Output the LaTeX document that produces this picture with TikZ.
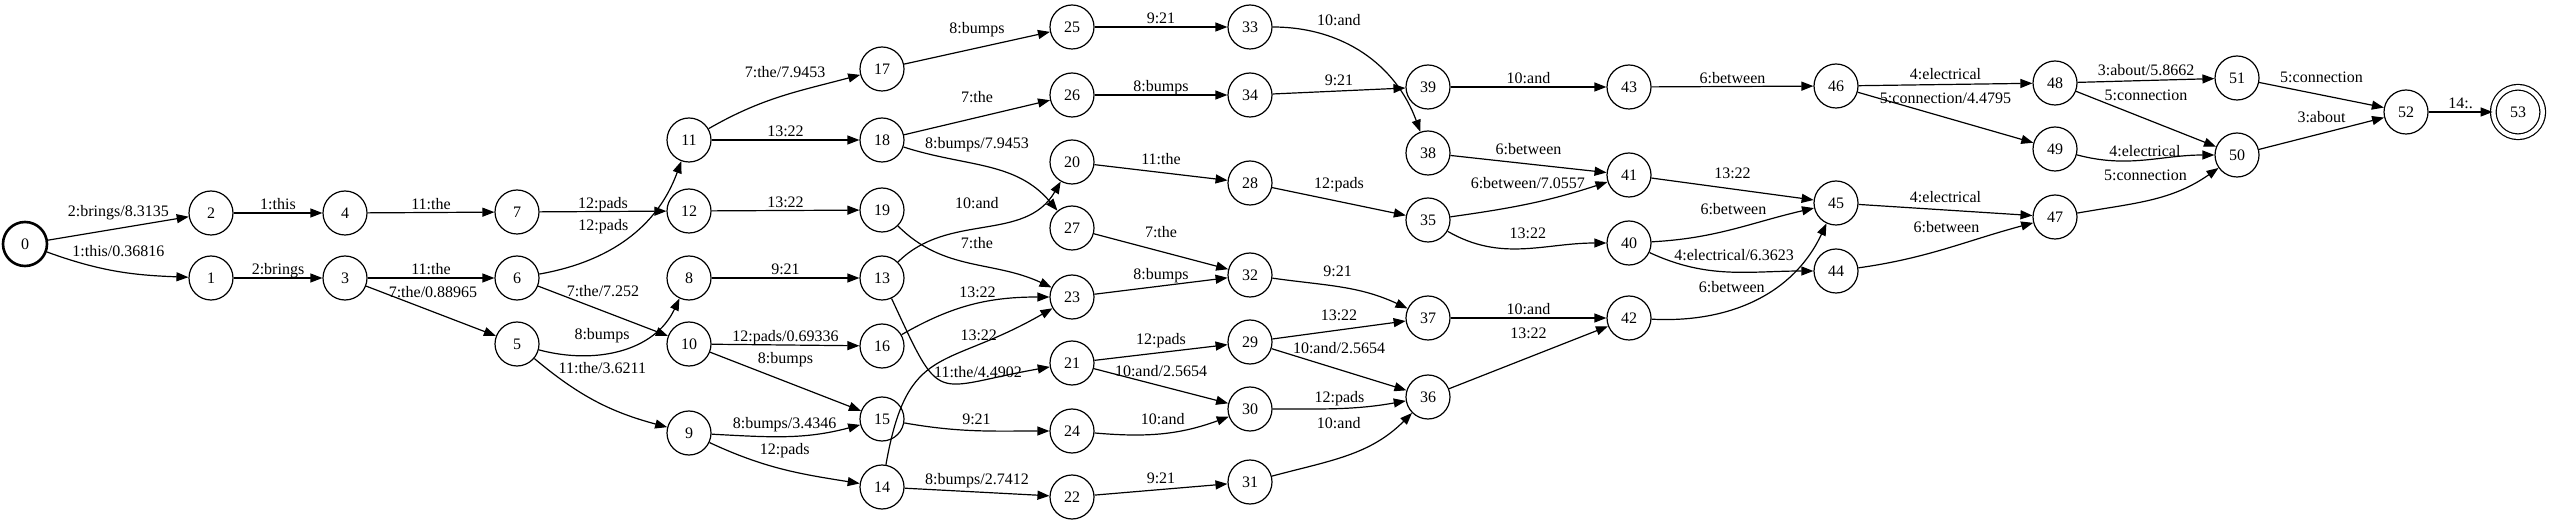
\documentclass[tikz,border=0pt]{standalone}
\usepackage{fontspec}
\setmainfont{Liberation Serif}
\usetikzlibrary{arrows.meta}
\newcommand{\lblfont}{\fontsize{16}{19}\selectfont}

\begin{document}
\begin{tikzpicture}[x=1pt,y=1pt,
    st/.style={circle,draw,line width=1.2pt,minimum size=44pt,inner sep=0pt,font=\lblfont},
    tr/.style={-{Triangle[length=12pt,width=9pt]},line width=1.2pt},
    lbl/.style={font=\lblfont,inner sep=2.5pt,text height=11pt,text depth=0pt},
    lb/.style 2 args={lbl,xshift=#1pt,yshift=#2pt}]
    \useasboundingbox (0,0) rectangle (2550,525);
    \node[st,line width=2.6pt] (s0) at (25,281) {0};
    \foreach \n/\x/\y in {2/211/312, 1/211/247, 4/345/312, 3/345/247, 7/517/313, 6/517/247,
      5/517/181, 11/689/385, 12/689/314, 8/689/247, 10/689/181, 9/689/92, 17/882/456,
      18/882/385, 19/882/315, 13/882/247, 16/882/179, 15/882/106, 14/882/38, 25/1072/498,
      26/1072/430, 20/1072/363, 27/1072/297, 23/1072/228, 21/1072/162, 24/1072/94,
      22/1072/28, 33/1250/498, 34/1250/430, 28/1250/342, 32/1250/250, 29/1250/183,
      30/1250/116, 31/1250/43, 39/1428/438, 38/1428/372, 35/1428/305, 37/1428/207,
      36/1428/128, 43/1629/438, 41/1629/350, 40/1629/282, 42/1629/207, 46/1836/439,
      45/1836/322, 44/1836/254, 48/2055/442, 49/2055/376, 47/2055/308, 51/2237/447,
      50/2237/370, 52/2406/413}
      \node[st] (s\n) at (\x,\y) {\n};
    \node[st,double,double distance=4.4pt,minimum size=49.5pt] (s53) at (2518,413) {53};
    \draw[tr]
    (s0) edge node[lb={0}{17}]{2:brings/8.3135} (s2)
    (s0) edge[out=-20,in=178] node[lb={2}{20}]{1:this/0.36816} (s1)
    (s2) edge node[lbl,above]{1:this} (s4)
    (s1) edge node[lbl,above]{2:brings} (s3)
    (s4) edge node[lbl,above]{11:the} (s7)
    (s3) edge node[lbl,above]{11:the} (s6)
    (s3) edge node[lb={2}{19}]{7:the/0.88965} (s5)
    (s7) edge node[lbl,above]{12:pads} (s12)
    (s6) edge[out=10,in=-110] node[lb={-24}{13}]{12:pads} (s11)
    (s6) edge node[lb={0}{20}]{7:the/7.252} (s10)
    (s5) edge[out=-15,in=-115] node[lb={-19}{16}]{8:bumps} (s8)
    (s5) edge[out=-40,in=165] node[lb={6}{33}]{11:the/3.6211} (s9)
    (s11) edge[out=30,in=195] node[lb={3}{24}]{7:the/7.9453} (s17)
    (s11) edge node[lbl,above]{13:22} (s18)
    (s12) edge node[lbl,above]{13:22} (s19)
    (s8) edge node[lbl,above]{9:21} (s13)
    (s10) edge node[lbl,above]{12:pads/0.69336} (s16)
    (s10) edge node[lb={0}{23}]{8:bumps} (s15)
    (s9) edge[out=-3,in=195] node[lb={-2}{13}]{8:bumps/3.4346} (s15)
    (s9) edge[out=-25,in=171] node[lb={2}{20}]{12:pads} (s14)
    (s17) edge node[lb={0}{20}]{8:bumps} (s25)
    (s18) edge node[lb={0}{20}]{7:the} (s26)
    (s18) edge[out=-18,in=130] node[lb={-11}{25}]{8:bumps/7.9453} (s27)
    (s19) edge[out=-45,in=155] node[lb={7}{21}]{7:the} (s23)
    (s13) edge[out=45,in=-120] node[lb={-8}{23}]{10:and} (s20)
    (s13) edge[out=-65,in=190,looseness=1.8] node[lb={33}{10}]{11:the/4.4902} (s21)
    (s16) edge[out=30,in=180] node[lb={5}{13}]{13:22} (s23)
    (s15) edge[out=-10,in=180] node[lb={0}{12}]{9:21} (s24)
    (s14) edge[out=80,in=-150,looseness=1.4] node[lb={42}{29}]{13:22} (s23)
    (s14) edge node[lb={0}{13}]{8:bumps/2.7412} (s22)
    (s25) edge node[lbl,above]{9:21} (s33)
    (s26) edge node[lbl,above]{8:bumps} (s34)
    (s20) edge node[lb={0}{13.5}]{11:the} (s28)
    (s27) edge node[lb={0}{19.5}]{7:the} (s32)
    (s23) edge node[lb={0}{12}]{8:bumps} (s32)
    (s21) edge node[lb={0}{13.5}]{12:pads} (s29)
    (s21) edge node[lb={0}{15}]{10:and/2.5654} (s30)
    (s24) edge[out=-5,in=200] node[lb={0}{14}]{10:and} (s30)
    (s22) edge node[lb={0}{11.5}]{9:21} (s31)
    (s33) edge[out=0,in=110] node[lb={-25}{34}]{10:and} (s38)
    (s34) edge node[lb={0}{11}]{9:21} (s39)
    (s28) edge node[lb={0}{18.5}]{12:pads} (s35)
    (s32) edge[out=-8,in=155] node[lb={-4}{17}]{9:21} (s37)
    (s29) edge node[lb={0}{15}]{13:22} (s37)
    (s29) edge node[lb={0}{21.5}]{10:and/2.5654} (s36)
    (s30) edge[out=0,in=190] node[lb={0}{11.5}]{12:pads} (s36)
    (s31) edge[out=15,in=-135] node[lb={-9}{32}]{10:and} (s36)
    (s39) edge node[lbl,above]{10:and} (s43)
    (s38) edge node[lb={0}{15}]{6:between} (s41)
    (s35) edge[out=8,in=198] node[lb={-2}{20}]{6:between/7.0557} (s41)
    (s35) edge[out=-30,in=180] node[lb={4}{16}]{13:22} (s40)
    (s37) edge node[lbl,above]{10:and} (s42)
    (s36) edge node[lb={0}{24.5}]{13:22} (s42)
    (s43) edge node[lbl,above]{6:between} (s46)
    (s41) edge node[lb={0}{16}]{13:22} (s45)
    (s40) edge[out=3,in=193] node[lb={0}{20}]{6:between} (s45)
    (s40) edge[out=-25,in=180] node[lb={5}{17}]{4:electrical/6.3623} (s44)
    (s42) edge[out=-3,in=-115] node[lb={-24}{12}]{6:between} (s45)
    (s46) edge node[lb={0}{10.5}]{4:electrical} (s48)
    (s46) edge node[lb={0}{19.5}]{5:connection/4.4795} (s49)
    (s45) edge node[lb={0}{13}]{4:electrical} (s47)
    (s44) edge[out=8,in=195] node[lb={0}{21.5}]{6:between} (s47)
    (s48) edge node[lb={0}{10.5}]{3:about/5.8662} (s51)
    (s48) edge node[lb={0}{24}]{5:connection} (s50)
    (s49) edge[out=-15,in=180] node[lb={0}{9}]{4:electrical} (s50)
    (s47) edge[out=10,in=-145] node[lb={-6}{24}]{5:connection} (s50)
    (s51) edge node[lb={0}{18}]{5:connection} (s52)
    (s50) edge node[lb={0}{16.5}]{3:about} (s52)
    (s52) edge node[lbl,above]{14:.} (s53);
\end{tikzpicture}
\end{document}
